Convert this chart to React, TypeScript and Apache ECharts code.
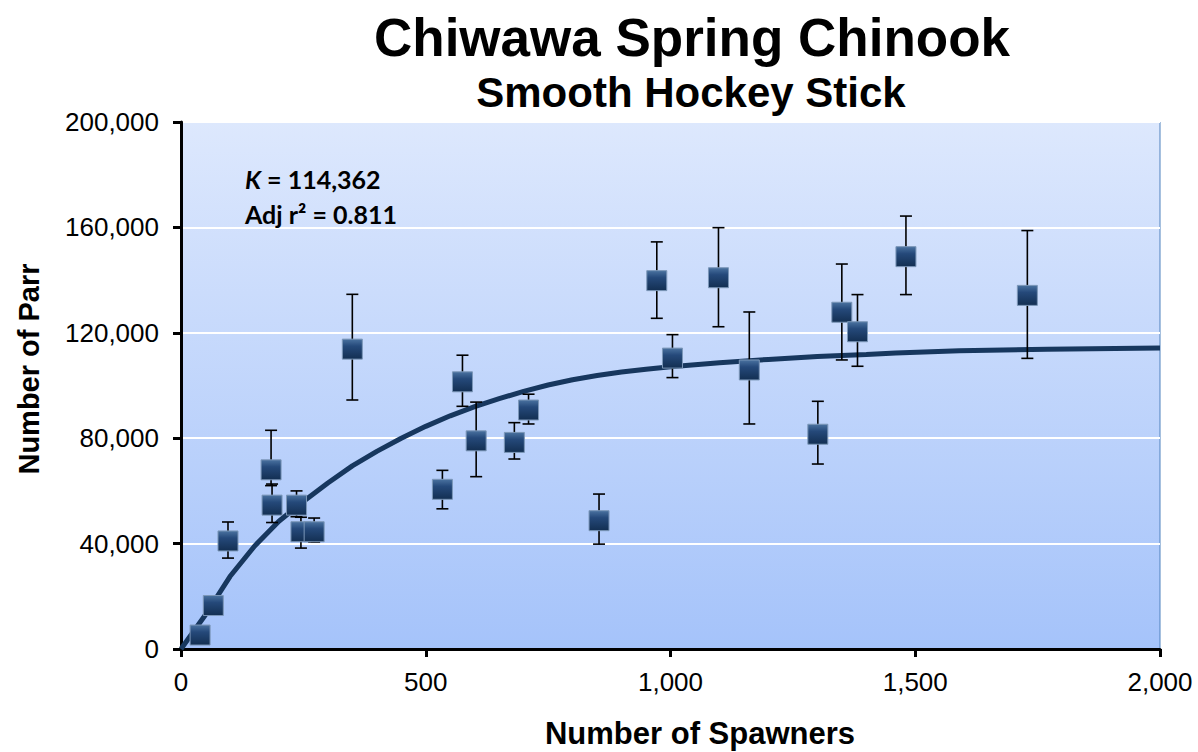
import React, { useEffect, useRef } from "react";
import * as echarts from "echarts";

const spawners = [39, 66, 96, 184, 186, 236, 245, 272, 350, 534, 575, 603, 681, 710, 854, 972, 1004, 1098, 1161, 1301, 1350, 1382, 1481, 1729];
const parr = [5300, 16500, 41000, 68000, 54600, 54600, 44500, 44500, 113800, 60600, 101400, 79000, 78400, 90700, 48700, 139800, 110400, 140900, 105900, 81500, 127800, 120400, 148900, 134200];
const parrLow = [4000, 15000, 34500, 62000, 48000, 50200, 38300, 40600, 94500, 53200, 92100, 65400, 72100, 85400, 39800, 125500, 103000, 122300, 85400, 70200, 109700, 107300, 134500, 110300];
const parrHigh = [6500, 18000, 48200, 83000, 62600, 60000, 50000, 49700, 134600, 67800, 111500, 93700, 85900, 96700, 58800, 154500, 119300, 159900, 127900, 94000, 146100, 134500, 164300, 158800];

const curveSpawners = [0, 50, 100, 150, 200, 250, 300, 350, 400, 450, 500, 550, 600, 650, 700, 750, 800, 850, 900, 950, 1000, 1100, 1200, 1300, 1400, 1460, 1590, 1770, 2000];
const curveParr = [0, 13000, 27500, 39000, 48500, 56000, 63000, 69500, 75000, 80000, 84500, 88500, 92000, 95000, 97800, 100200, 102200, 103800, 105100, 106200, 107100, 108600, 109900, 111000, 111800, 112300, 113200, 113800, 114200];

const xTicks = [0, 500, 1000, 1500, 2000];
const yTicks = [0, 40000, 80000, 120000, 160000, 200000];

const titleText = "Chiwawa Spring Chinook";
const subtitleText = "Smooth Hockey Stick";
const xName = "Number of Spawners";
const yName = "Number of Parr";
const kValue = "114,362";
const r2Value = "0.811";

const fmt = (v: number) => v.toLocaleString("en-US");

export default function App() {
  const ref = useRef<HTMLDivElement>(null);
  useEffect(() => {
    document.body.style.margin = "0";
    const chart = echarts.init(ref.current!, null, { renderer: "svg" });
    const points = spawners.map((s, i) => [s, parr[i]]);
    const errs = spawners.map((s, i) => [s, parr[i], parrLow[i], parrHigh[i]]);
    const curve = curveSpawners.map((s, i) => [s, curveParr[i]]);
    const sans = "'Liberation Sans', Arial, sans-serif";
    chart.setOption({
      animation: false,
      grid: {
        left: 181,
        top: 122,
        width: 979,
        height: 527,
        show: true,
        borderColor: "#4f81bd",
        borderWidth: 1,
        backgroundColor: new echarts.graphic.LinearGradient(0, 0, 0, 1, [
          { offset: 0, color: "#dde8fd" },
          { offset: 1, color: "#a5c3fa" },
        ]),
      },
      xAxis: {
        type: "value",
        min: xTicks[0],
        max: xTicks[xTicks.length - 1],
        interval: xTicks[1] - xTicks[0],
        axisLine: { show: true, onZero: false, lineStyle: { color: "#000", width: 3 } },
        axisTick: { show: true, length: 8, lineStyle: { color: "#000", width: 3 } },
        axisLabel: { color: "#000", fontSize: 26, fontFamily: sans, margin: 20, formatter: fmt },
        splitLine: { show: false },
      },
      yAxis: {
        type: "value",
        min: yTicks[0],
        max: yTicks[yTicks.length - 1],
        interval: yTicks[1] - yTicks[0],
        axisLine: { show: true, onZero: false, lineStyle: { color: "#000", width: 3 } },
        axisTick: { show: true, length: 8, lineStyle: { color: "#000", width: 3 } },
        axisLabel: { color: "#000", fontSize: 26, fontFamily: sans, margin: 22, formatter: fmt },
        splitLine: { show: true, lineStyle: { color: "#ffffff", width: 2 } },
      },
      graphic: [
        {
          type: "text",
          x: 692,
          y: 37,
          style: { text: titleText, fontSize: 53, fontWeight: "bold", fontFamily: sans, fill: "#000", align: "center", verticalAlign: "middle" },
        },
        {
          type: "text",
          x: 691,
          y: 92,
          style: { text: subtitleText, fontSize: 42, fontWeight: "bold", fontFamily: sans, fill: "#000", align: "center", verticalAlign: "middle" },
        },
        {
          type: "text",
          x: 700,
          y: 733,
          style: { text: xName, fontSize: 31, fontWeight: "bold", fontFamily: sans, fill: "#000", align: "center", verticalAlign: "middle" },
        },
        {
          type: "text",
          x: 29,
          y: 369,
          rotation: Math.PI / 2,
          style: { text: yName, fontSize: 29, fontWeight: "bold", fontFamily: sans, fill: "#000", align: "center", verticalAlign: "middle" },
        },
        {
          type: "text",
          x: 245,
          y: 179,
          z: 100,
          style: {
            text: "{i|K} = " + kValue,
            fontSize: 25,
            fontWeight: "bold",
            fontFamily: "Lato, 'Open Sans', sans-serif",
            fill: "#000",
            verticalAlign: "middle",
            rich: { i: { fontStyle: "italic", fontWeight: "bold", fontSize: 25, fontFamily: "Lato, 'Open Sans', sans-serif" } },
          },
        },
        {
          type: "text",
          x: 245,
          y: 214,
          z: 100,
          style: {
            text: "Adj r\u00B2 = " + r2Value,
            fontSize: 25,
            fontWeight: "bold",
            fontFamily: "Lato, 'Open Sans', sans-serif",
            fill: "#000",
            verticalAlign: "middle",
          },
        },
      ],
      series: [
        {
          type: "line",
          data: curve,
          showSymbol: false,
          symbol: "none",
          smooth: false,
          lineStyle: { color: "#17375e", width: 5 },
          z: 2,
        },
        {
          type: "custom",
          data: errs,
          z: 3,
          renderItem: (params: any, api: any) => {
            const x = api.value(0);
            const lo = api.coord([x, api.value(2)]);
            const hi = api.coord([x, api.value(3)]);
            const half = 6;
            const st = { stroke: "#000", lineWidth: 1.6 };
            return {
              type: "group",
              children: [
                { type: "line", shape: { x1: lo[0], y1: lo[1], x2: hi[0], y2: hi[1] }, style: st },
                { type: "line", shape: { x1: lo[0] - half, y1: lo[1], x2: lo[0] + half, y2: lo[1] }, style: st },
                { type: "line", shape: { x1: hi[0] - half, y1: hi[1], x2: hi[0] + half, y2: hi[1] }, style: st },
              ],
            };
          },
        },
        {
          type: "scatter",
          data: points,
          symbol: "rect",
          symbolSize: 20,
          z: 4,
          itemStyle: {
            color: new echarts.graphic.LinearGradient(0, 0, 0, 1, [
              { offset: 0, color: "#4a72a0" },
              { offset: 0.35, color: "#25497a" },
              { offset: 1, color: "#132f52" },
            ]),
            borderColor: "#7c97b8",
            borderWidth: 1,
            opacity: 1,
          },
        },
      ],
    });
    return () => chart.dispose();
  }, []);
  return <div ref={ref} style={{ width: 1198, height: 752 }} />;
}
